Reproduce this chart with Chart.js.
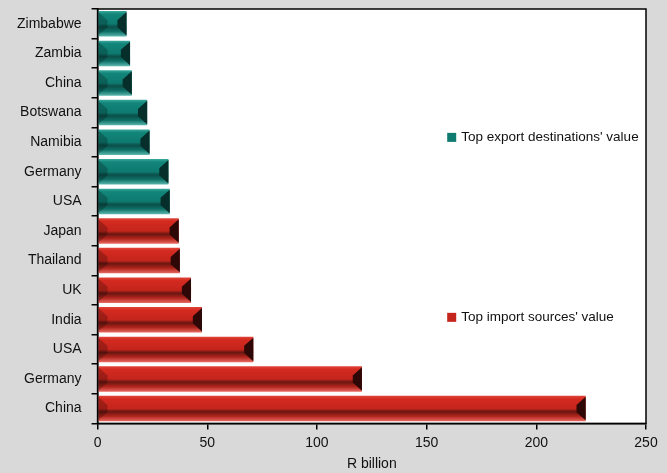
<!DOCTYPE html>
<html>
<head>
<meta charset="utf-8">
<script src="https://cdn.jsdelivr.net/npm/chart.js@4/dist/chart.umd.min.js"></script>
<style>
    html, body { margin: 0; padding: 0; background: #d9d9d9; }
    #wrap { width: 667px; height: 473px; }
</style>
</head>
<body>
<div id="wrap"><canvas id="tradeChart" width="667" height="473"></canvas></div>
<script>
'use strict';

// ------------------------------------------------------- //
// Data
// ------------------------------------------------------ //
var countries = ['Zimbabwe', 'Zambia', 'China', 'Botswana', 'Namibia', 'Germany', 'USA',
                 'Japan', 'Thailand', 'UK', 'India', 'USA', 'Germany', 'China'];
var exportValues = [13.2, 14.8, 15.6, 22.6, 23.7, 32.3, 32.9,
                    null, null, null, null, null, null, null];
var importValues = [null, null, null, null, null, null, null,
                    37.0, 37.5, 42.6, 47.6, 71.0, 120.5, 222.5];
var xTicks = [0, 50, 100, 150, 200, 250];
var seriesNames = ["Top export destinations' value", "Top import sources' value"];

var FONT = '"Liberation Sans", Arial, sans-serif';

// bevel-ish gradient across the bar thickness
function barFill(stops, fallback) {
    return function (c) {
        var chart = c.chart;
        var y = chart.scales && chart.scales.y;
        if (!y || c.dataIndex === undefined) return fallback;
        var mid = y.getPixelForValue(c.dataIndex);
        var half = (y.height / countries.length) * 0.86 / 2;
        if (!isFinite(mid) || !half) return fallback;
        var g = chart.ctx.createLinearGradient(0, mid - half, 0, mid + half);
        stops.forEach(function (s) { g.addColorStop(s[0], s[1]); });
        return g;
    };
}

var tealStops = [[0, '#3aa89c'], [0.12, '#128579'], [0.5, '#0e7a70'],
                 [0.62, '#0b4f49'], [0.8, '#0e6f66'], [1, '#5bb8ae']];
var redStops = [[0, '#e0443a'], [0.12, '#d42a20'], [0.5, '#c4251c'],
                [0.62, '#6a1611'], [0.8, '#b0241c'], [1, '#e86a62']];
var capColors = ['#062e2a', '#2e0806'];

// white plot area with frame
var plotArea = {
    id: 'plotArea',
    beforeDraw: function (chart) {
        var a = chart.chartArea, ctx = chart.ctx;
        ctx.save();
        ctx.fillStyle = '#d9d9d9';
        ctx.fillRect(0, 0, chart.width, chart.height);
        ctx.fillStyle = '#ffffff';
        ctx.fillRect(a.left, a.top, a.right - a.left, a.bottom - a.top);
        ctx.restore();
    },
    afterDraw: function (chart) {
        var a = chart.chartArea, ctx = chart.ctx;
        ctx.save();
        ctx.strokeStyle = '#000000';
        ctx.lineWidth = 1.5;
        ctx.strokeRect(a.left, a.top, a.right - a.left, a.bottom - a.top);
        ctx.restore();
    }
};

// bevelled ends on each bar
var bevelEnds = {
    id: 'bevelEnds',
    afterDatasetsDraw: function (chart) {
        var ctx = chart.ctx;
        ctx.save();
        chart.data.datasets.forEach(function (ds, di) {
            chart.getDatasetMeta(di).data.forEach(function (bar, i) {
                if (ds.data[i] === null) return;
                var top = bar.y - bar.height / 2, bottom = bar.y + bar.height / 2;
                var b = Math.min(bar.height * 0.36, (bar.x - bar.base) / 2);
                // right cap
                ctx.fillStyle = capColors[di];
                ctx.beginPath();
                ctx.moveTo(bar.x, top + 1);
                ctx.lineTo(bar.x - b, top + b);
                ctx.lineTo(bar.x - b, bottom - b);
                ctx.lineTo(bar.x, bottom - 1);
                ctx.closePath();
                ctx.fill();
                // left cap
                ctx.fillStyle = 'rgba(0,0,0,0.22)';
                ctx.beginPath();
                ctx.moveTo(bar.base, top + 1);
                ctx.lineTo(bar.base + b, top + b);
                ctx.lineTo(bar.base + b, bottom - b);
                ctx.lineTo(bar.base, bottom - 1);
                ctx.closePath();
                ctx.fill();
            });
        });
        ctx.restore();
    }
};

// legend entries sit inside the plot, one beside each group
var sideLegend = {
    id: 'sideLegend',
    afterDraw: function (chart) {
        var a = chart.chartArea, ctx = chart.ctx, y = chart.scales.y;
        var x = a.left + (a.right - a.left) * 0.6375;
        var rows = [
            { text: seriesNames[0], color: '#0e7a70', at: 3.82 },
            { text: seriesNames[1], color: '#c4251c', at: 9.9 }
        ];
        ctx.save();
        ctx.font = '13.5px ' + FONT;
        ctx.textBaseline = 'middle';
        rows.forEach(function (r) {
            var cy = y.getPixelForValue(r.at);
            ctx.fillStyle = r.color;
            ctx.fillRect(x, cy - 4, 9, 9);
            ctx.fillStyle = '#111111';
            ctx.fillText(r.text, x + 14, cy);
        });
        ctx.restore();
    }
};

var ctxEl = document.getElementById('tradeChart');
var tradeChart = new Chart(ctxEl, {
    type: 'bar',
    data: {
        labels: countries,
        datasets: [
            {
                label: seriesNames[0],
                data: exportValues,
                backgroundColor: barFill(tealStops, '#0e7a70'),
                borderWidth: 0
            },
            {
                label: seriesNames[1],
                data: importValues,
                backgroundColor: barFill(redStops, '#c4251c'),
                borderWidth: 0
            }
        ]
    },
    options: {
        indexAxis: 'y',
        responsive: false,
        animation: false,
        skipNull: true,
        categoryPercentage: 0.86,
        barPercentage: 1.0,
        layout: { padding: { top: 9, right: 21, left: 7, bottom: 0 } },
        plugins: {
            legend: { display: false },
            tooltip: { enabled: false }
        },
        scales: {
            x: {
                min: 0,
                max: 250,
                afterBuildTicks: function (axis) {
                    axis.ticks = xTicks.map(function (v) { return { value: v }; });
                },
                grid: { drawOnChartArea: false, tickLength: 6, color: '#000000', lineWidth: 1.5 },
                border: { color: '#000000', width: 1.5 },
                ticks: { color: '#111111', font: { family: FONT, size: 14 }, padding: 5, maxRotation: 0 },
                title: { display: true, text: 'R billion', color: '#111111',
                         font: { family: FONT, size: 14 }, padding: { top: 0, bottom: 0 } }
            },
            y: {
                offset: true,
                afterFit: function (axis) {
                    axis.paddingTop = 0;
                    axis.paddingBottom = 0;
                },
                grid: { offset: true, drawOnChartArea: false, tickLength: 6, color: '#000000', lineWidth: 1.5 },
                border: { color: '#000000', width: 1.5 },
                ticks: { color: '#111111', font: { family: FONT, size: 14 }, padding: 10, autoSkip: false }
            }
        }
    },
    plugins: [plotArea, bevelEnds, sideLegend]
});
</script>
</body>
</html>
